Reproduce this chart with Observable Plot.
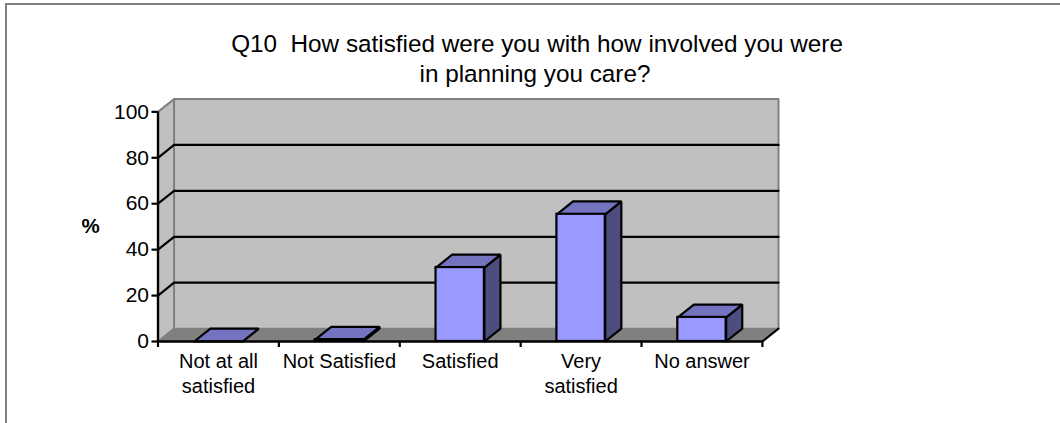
<!DOCTYPE html>
<html>
<head>
<meta charset="utf-8">
<script src="https://cdn.jsdelivr.net/npm/d3@7"></script>
<script src="https://cdn.jsdelivr.net/npm/@observablehq/plot@0.6"></script>
<style>
html,body{margin:0;padding:0;background:#fff;overflow:hidden}
#wrap{position:relative;width:1060px;height:423px}
#frame{position:absolute;left:5px;top:3px;right:0;bottom:0;border-left:2px solid #808080;border-top:2px solid #808080}
#chart{position:absolute;left:0;top:0}
svg{display:block;background:transparent!important}
</style>
</head>
<body>
<div id="wrap"><div id="frame"></div><div id="chart"></div></div>
<script>
const categories = ["Not at all\nsatisfied", "Not Satisfied", "Satisfied", "Very\nsatisfied", "No answer"];
const values = [0, 0.8, 32.2, 55.4, 10.5];
const yTicks = [0, 20, 40, 60, 80, 100];
const titleLines = ["Q10  How satisfied were you with how involved you were", "in planning you care?"];
const yLabel = "%";

// Oblique depth of the pseudo-3D box, in data units
const depthX = 0.133, depthY = 5.6, barWidth = 0.4;
const n = categories.length;
const marginLeft = 157.5, marginTop = 98.5;

const poly = (rows) => rows.flatMap((pts, id) => pts.concat([pts[0]]).map(([x, y]) => ({x, y, id})));
const bars = values.map((v, i) => {
  const a = i + 0.5 - barWidth / 2, b = i + 0.5 + barWidth / 2;
  return {a, b, v};
});
const tops = poly(bars.map(({a, b, v}) => [[a, v], [b, v], [b + depthX, v + depthY], [a + depthX, v + depthY]]));
const sides = poly(bars.map(({b, v}) => [[b, 0], [b + depthX, depthY], [b + depthX, v + depthY], [b, v]]));
const grid = yTicks.slice(1, -1).flatMap((t, id) => [
  {x: 0, y: t, id}, {x: depthX, y: t + depthY, id}, {x: n + depthX, y: t + depthY, id}
]);
const polyMark = (data, fill, stroke, strokeWidth) =>
  Plot.line(data, {x: "x", y: "y", z: "id", fill, stroke, strokeWidth, curve: "linear", strokeLinejoin: "miter"});
const label = (text, px, py, opts) =>
  Plot.text([text], {frameAnchor: "top-left", dx: px - marginLeft, dy: py - marginTop, lineAnchor: "middle", textAnchor: "middle", text: (d) => d, fill: "#000", ...opts});

const plot = Plot.plot({
  width: 1060, height: 423,
  marginLeft, marginRight: 282, marginTop, marginBottom: 82,
  style: {fontFamily: "'Liberation Sans', Arial, sans-serif", color: "#000"},
  x: {domain: [0, n + depthX], axis: null},
  y: {domain: [0, 100 + depthY], axis: null},
  marks: [
    // walls and floor
    polyMark(poly([[[0, 0], [depthX, depthY], [depthX, 100 + depthY], [0, 100]]]), "#c0c0c0", "#808080", 2),
    polyMark(poly([[[depthX, depthY], [n + depthX, depthY], [n + depthX, 100 + depthY], [depthX, 100 + depthY]]]), "#c0c0c0", "#808080", 2),
    polyMark(poly([[[0, 0], [n, 0], [n + depthX, depthY], [depthX, depthY]]]), "#808080", "#808080", 1),
    // gridlines
    Plot.line(grid, {x: "x", y: "y", z: "id", stroke: "#000", strokeWidth: 2.2}),
    // bars
    polyMark(sides, "#4d4d80", "#000", 2.2),
    polyMark(tops, "#7373bf", "#000", 2.2),
    Plot.rect(bars, {x1: "a", x2: "b", y1: 0, y2: "v", fill: "#9999ff", stroke: "#000", strokeWidth: 2.2, inset: 0}),
    // axis lines
    Plot.ruleY([0], {x1: 0, x2: n, stroke: "#000", strokeWidth: 2.4}),
    Plot.line([{x: n, y: 0}, {x: n + depthX, y: depthY}], {x: "x", y: "y", stroke: "#000", strokeWidth: 2.2}),
    Plot.ruleX([0], {y1: 0, y2: 100, stroke: "#000", strokeWidth: 2.4}),
    // axes
    Plot.axisY({ticks: yTicks, tickSize: 6, tickPadding: 3, stroke: "#000", strokeWidth: 2.2, fontSize: 21, label: null}),
    Plot.axisX({ticks: d3.range(n + 1), tickSize: 6, stroke: "#000", strokeWidth: 2.2, tickFormat: () => "", label: null}),
    Plot.axisX({ticks: d3.range(n).map((i) => i + 0.5), tickSize: 0, tickPadding: 9, fontSize: 20, lineHeight: 1.25, lineAnchor: "top",
      tickFormat: (d) => categories[Math.floor(d)], label: null}),
    // y label and title
    label(yLabel, 90, 226, {fontSize: 20.5, fontWeight: "bold"}),
    label(titleLines[0], 536.5, 43.5, {fontSize: 24.3}),
    label(titleLines[1], 534.5, 74, {fontSize: 24.3})
  ]
});
document.getElementById("chart").appendChild(plot);
</script>
</body>
</html>
